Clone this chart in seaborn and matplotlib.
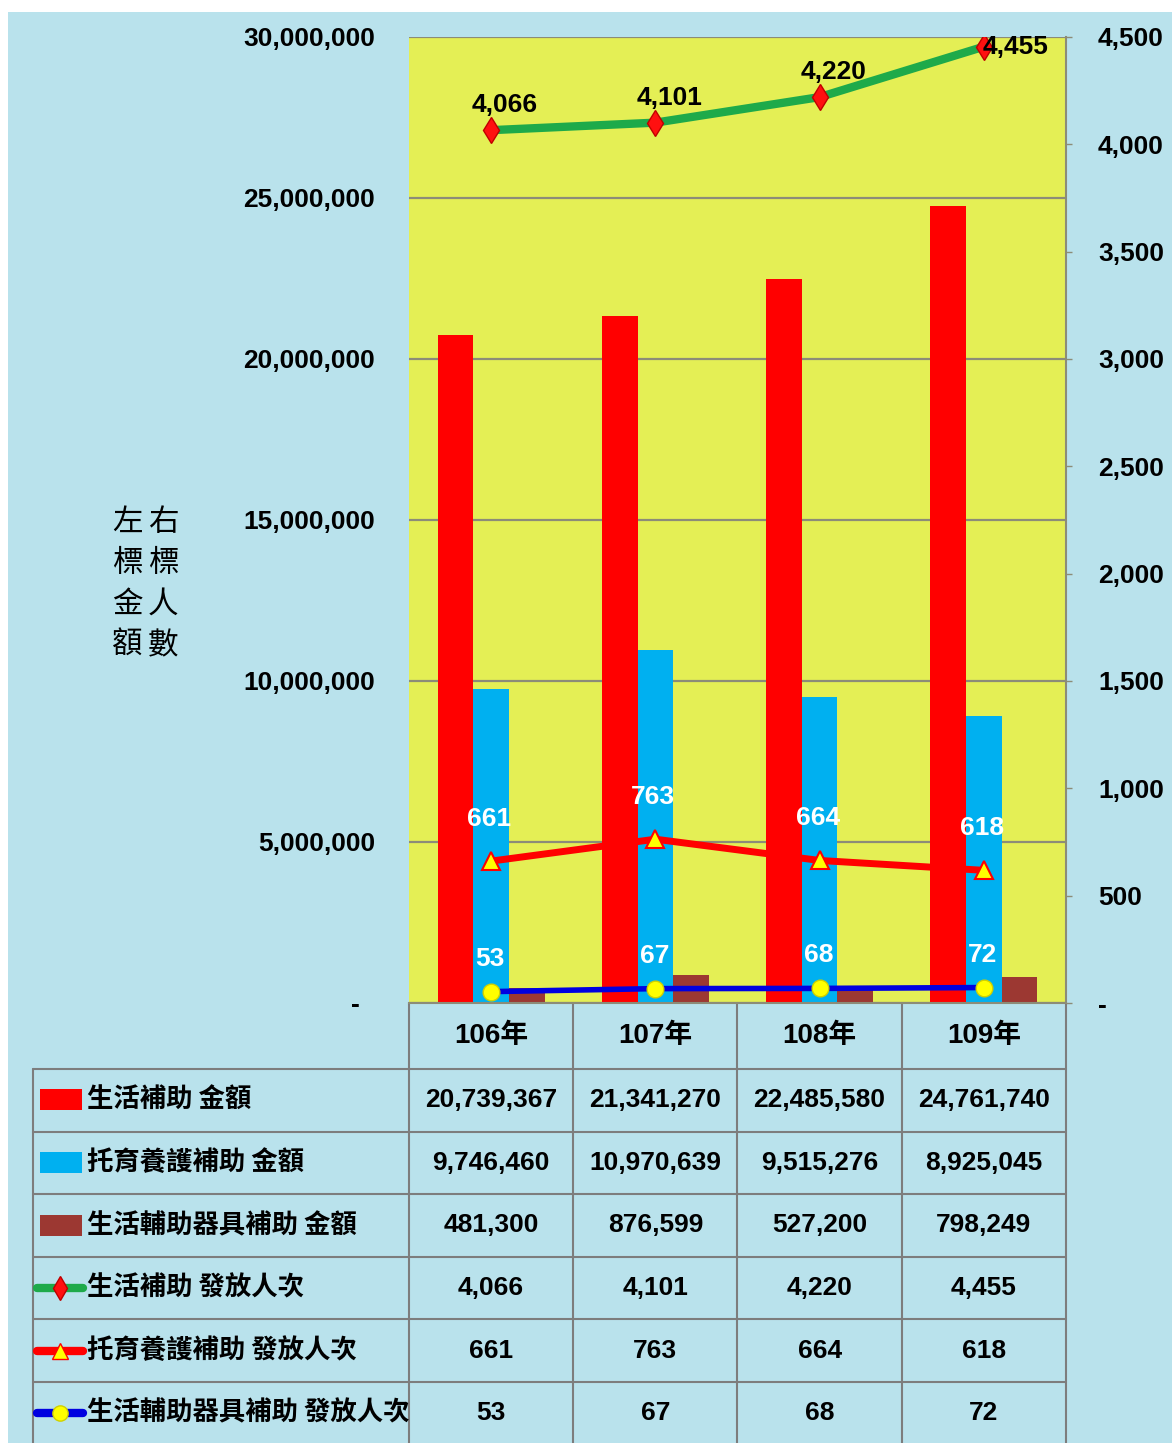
import numpy as np
import pandas as pd
import matplotlib.pyplot as plt
import matplotlib.transforms as mtransforms
from matplotlib.patches import Rectangle
from matplotlib.lines import Line2D
from matplotlib.ticker import FuncFormatter, MultipleLocator
import seaborn as sns

sns.set_theme(style='white')
plt.rcParams['font.family'] = ['Liberation Sans', 'Noto Sans CJK TC', 'DejaVu Sans']
plt.rcParams['text.color'] = 'black'
plt.rcParams['axes.unicode_minus'] = False

# Data
years = ['106年', '107年', '108年', '109年']
living_amt = [20739367, 21341270, 22485580, 24761740]
care_amt = [9746460, 10970639, 9515276, 8925045]
aid_amt = [481300, 876599, 527200, 798249]
living_cnt = [4066, 4101, 4220, 4455]
care_cnt = [661, 763, 664, 618]
aid_cnt = [53, 67, 68, 72]

bar_names = ['生活補助 金額', '托育養護補助 金額', '生活輔助器具補助 金額']
line_names = ['生活補助 發放人次', '托育養護補助 發放人次', '生活輔助器具補助 發放人次']
bar_colors = ['#ff0000', '#00b0f0', '#9c3832']

bars = pd.DataFrame({
    '年度': years * 3,
    '項目': np.repeat(bar_names, len(years)),
    '金額': living_amt + care_amt + aid_amt,
})
line_values = [living_cnt, care_cnt, aid_cnt]
line_styles = [
    dict(color='#1eaa4a', lw=6, marker='d', ms=13, mfc='#ff1010', mec='#c00000', mew=1),
    dict(color='#ff0000', lw=5, marker='^', ms=13, mfc='#ffff00', mec='#ff0000', mew=1.5),
    dict(color='#0000e0', lw=4, marker='o', ms=12, mfc='#ffff00', mec='#d0d000', mew=1),
]
label_colors = ['black', 'white', 'white']
label_offsets = [(14, 25), (-2, 42), (-1, 33)]

W, H = 1172, 1443
cnj = ['Noto Sans CJK TC']
num_font = ['Liberation Sans', 'Noto Sans CJK TC']

fig = plt.figure(figsize=(W / 100, H / 100), dpi=100)
fig.patch.set_facecolor('white')

# background layer (pixel coordinates)
bg = fig.add_axes([0, 0, 1, 1], zorder=0)
bg.set_xlim(0, W)
bg.set_ylim(H, 0)
bg.axis('off')
bg.add_patch(Rectangle((8, 12), W - 8, H - 12, facecolor='#b9e2ec', edgecolor='none'))

# main chart
ax = fig.add_axes([409 / W, 1 - 1003 / H, (1066 - 409) / W, (1003 - 37) / H], zorder=1)
ax.set_facecolor('#e4ef55')
sns.barplot(data=bars, x='年度', y='金額', hue='項目', palette=bar_colors, saturation=1,
            width=0.65, gap=0, errorbar=None, legend=False, linewidth=0, ax=ax)
ax.set_ylim(0, 30_000_000)
ax.yaxis.set_major_locator(MultipleLocator(5_000_000))
ax.yaxis.set_major_formatter(FuncFormatter(lambda v, p: '-  ' if v == 0 else f'{v:,.0f}'))
ax.set_axisbelow(True)
ax.yaxis.grid(True, color='#8c8c78', lw=1.6)
ax.xaxis.grid(False)
ax.tick_params(axis='x', bottom=False, labelbottom=False)
ax.tick_params(axis='y', length=0, pad=24.5, labelsize=19, labelcolor='black')
for lab in ax.get_yticklabels():
    lab.set_fontweight('bold')
ax.set_xlabel('')
ax.set_ylabel('')
for s in ['left', 'top', 'right']:
    ax.spines[s].set_visible(False)
ax.spines['bottom'].set_color('#8c8c78')
ax.spines['bottom'].set_linewidth(1.5)

# secondary axis with people counts
ax2 = ax.twinx()
xs = np.arange(len(years))
for vals, st, lc, off in zip(line_values, line_styles, label_colors, label_offsets):
    sns.lineplot(x=xs, y=vals, ax=ax2, **st)
    for i, v in enumerate(vals):
        dx, dy = off
        if v + 60 > 4500:
            dx, dy = 32, 0
        ax2.annotate(f'{v:,}', (i, v), xytext=(dx, dy), textcoords='offset pixels',
                     ha='center', va='center', fontsize=19, fontweight='bold', color=lc)
ax2.set_ylim(0, 4500)
ax2.yaxis.set_major_locator(MultipleLocator(500))
ax2.yaxis.set_major_formatter(FuncFormatter(lambda v, p: '-' if v == 0 else f'{v:,.0f}'))
ax2.tick_params(axis='y', right=True, length=4, width=1, color='#8c8c78', pad=19,
                labelsize=19, labelcolor='black')
for lab in ax2.get_yticklabels():
    lab.set_fontweight('bold')
ax2.grid(False)
ax2.set_ylabel('')
for s in ['left', 'top', 'bottom']:
    ax2.spines[s].set_visible(False)
ax2.spines['right'].set_color('#8c8c78')
ax2.spines['right'].set_linewidth(1.5)
ax.set_xlim(-0.5, len(years) - 0.5)

# vertical axis notes
bg.text(127, 584, '\n'.join('左標金額'), ha='center', va='center', fontsize=22,
        family=cnj, linespacing=1.42)
bg.text(163, 584, '\n'.join('右標人數'), ha='center', va='center', fontsize=22,
        family=cnj, linespacing=1.42)

# data table under the chart
trans = mtransforms.blended_transform_factory(ax.transData, bg.transData)
plot_right = ax.get_position().x1 * W
plot_bottom = (1 - ax.get_position().y0) * H
grid_c = '#7d7d7d'
table_left = 33
header_bottom = 1069
row_h = 62.6
row_edges = [header_bottom + k * row_h for k in range(7)]

for i, y in enumerate(years):
    bg.text(i, (plot_bottom + header_bottom) / 2, y, transform=trans, ha='center', va='center',
            fontsize=20, fontweight='bold', family=num_font)
for k in range(len(years) + 1):
    bg.plot([k - 0.5, k - 0.5], [plot_bottom, H], transform=trans, color=grid_c, lw=1.5)
bg.plot([table_left, table_left], [header_bottom, H], color=grid_c, lw=1.5)
for y in row_edges[:-1]:
    bg.plot([table_left, plot_right], [y, y], color=grid_c, lw=1.5)

all_rows = list(zip(bar_names, [living_amt, care_amt, aid_amt])) + list(zip(line_names, line_values))
for r, (name, vals) in enumerate(all_rows):
    yc = (row_edges[r] + row_edges[r + 1]) / 2
    if r < 3:
        bg.add_patch(Rectangle((40, yc - 11), 42, 21, facecolor=bar_colors[r], edgecolor='none'))
    else:
        st = line_styles[r - 3]
        bg.add_line(Line2D([37, 60, 83], [yc, yc, yc], color=st['color'], lw=6,
                           marker=st['marker'], markevery=[1], ms=st['ms'] - 1,
                           mfc=st['mfc'], mec=st['mec']))
    bg.text(87, yc, name, ha='left', va='center', fontsize=19, fontweight='bold', family=cnj)
    for i, v in enumerate(vals):
        bg.text(i, yc, f'{v:,}', transform=trans, ha='center', va='center',
                fontsize=19, fontweight='bold', family=num_font)

fig.savefig('out.png', dpi=100, facecolor=fig.get_facecolor())
